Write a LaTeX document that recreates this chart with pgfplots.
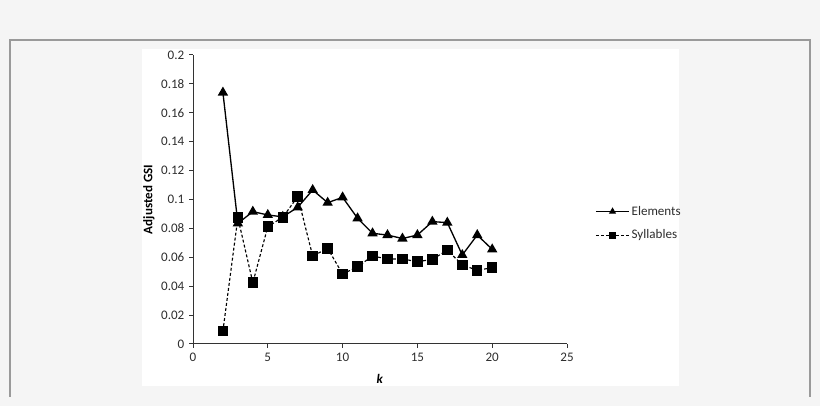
\documentclass[border=0pt]{standalone}
\usepackage{pgfplots}
\pgfplotsset{compat=1.18}
\usepackage{fontspec}
\setmainfont{Carlito}
\definecolor{pagebg}{HTML}{F5F5F5}
\definecolor{framegray}{HTML}{9A9A9A}
\definecolor{txt}{HTML}{2E2E2E}

% k, Elements, Syllables
\pgfplotstableread{
k   el     syl
2   0.174  0.009
3   0.0835 0.0874
4   0.0916 0.0424
5   0.0893 0.0812
6   0.0880 0.0877
7   0.0946 0.1020
8   0.1066 0.0609
9   0.0978 0.0662
10  0.1015 0.0484
11  0.0870 0.0535
12  0.0766 0.0609
13  0.0754 0.0588
14  0.0730 0.0588
15  0.0754 0.0570
16  0.0847 0.0585
17  0.0840 0.0650
18  0.0616 0.0547
19  0.0754 0.0510
20  0.0655 0.0528
}\gsi

\begin{document}
\begin{tikzpicture}
% page background and frame (1px = 0.75pt)
\fill[pagebg] (0pt,0pt) rectangle (615pt,304.5pt);
\draw[framegray, line width=0.8pt] (7.5pt,6.75pt) -- (7.5pt,274.5pt) -- (607.5pt,274.5pt) -- (607.5pt,6.75pt);
\fill[white] (106.5pt,15pt) rectangle (509.25pt,267.75pt);

\begin{axis}[
    at={(144.75pt,46.5pt)}, anchor=south west,
    scale only axis,
    width=280.5pt, height=216.75pt,
    xmin=0, xmax=25, ymin=0, ymax=0.2,
    xtick={0,5,...,25},
    ytick={0,0.02,...,0.2},
    yticklabels={0,0.02,0.04,0.06,0.08,0.1,0.12,0.14,0.16,0.18,0.2},
    axis lines*=left,
    axis line style={black!80, line width=0.75pt, -},
    tick align=outside,
    major tick length=3pt,
    tick style={black!80, line width=0.75pt},
    font=\fontsize{9.8}{11}\selectfont,
    ticklabel style={text=txt},
    /pgf/number format/assume math mode=true,
    clip=false,
    xlabel={\textbf{\textit{k}}},
    ylabel={\textbf{Adjusted GSI}},
    every axis x label/.style={at={(axis description cs:0.5,-0.121)}, anchor=center},
    every axis y label/.style={at={(axis description cs:-0.118,0.5)}, rotate=90, anchor=center},
    legend style={
        at={(axis description cs:1.075,0.417)}, anchor=west,
        draw=none, fill=none,
        font=\fontsize{9.8}{11}\selectfont,
        text=txt,
        row sep=6.5pt,
        inner sep=0pt,
        nodes={inner sep=1.5pt},
    },
    legend cell align=left,
    legend image code/.code={
        \draw[#1, mark size=2.2pt, mark repeat=2, mark phase=2]
            plot coordinates {(0pt,0pt) (12.4pt,0pt) (24.75pt,0pt)};
    },
]
\addplot[black, line width=1pt, mark=triangle*, mark size=3.5pt,
    mark options={solid}] table[x=k, y=el] {\gsi};
\addlegendentry{Elements}
\addplot[black, line width=0.85pt, dash pattern=on 2.2pt off 1.6pt,
    mark=square*, mark size=3.5pt, mark options={solid}] table[x=k, y=syl] {\gsi};
\addlegendentry{Syllables}
\end{axis}
\end{tikzpicture}
\end{document}
